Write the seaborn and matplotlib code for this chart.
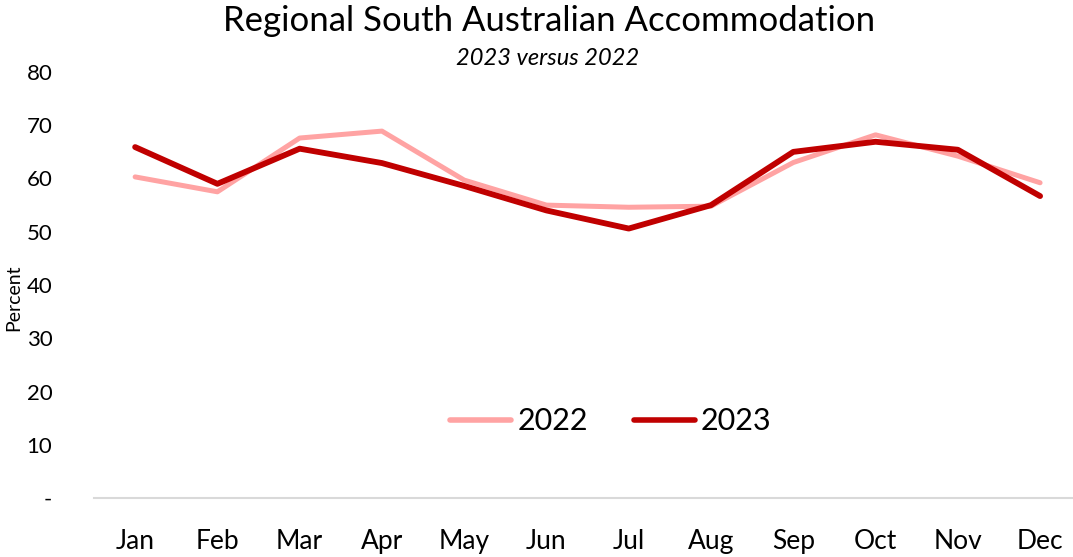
import numpy as np
import matplotlib.pyplot as plt
import pandas as pd
import seaborn as sns

months = ['Jan', 'Feb', 'Mar', 'Apr', 'May', 'Jun', 'Jul', 'Aug', 'Sep', 'Oct', 'Nov', 'Dec']
occ_2022 = [60.3, 57.5, 67.6, 68.9, 59.7, 55.0, 54.6, 54.8, 63.0, 68.2, 64.2, 59.2]
occ_2023 = [65.9, 59.0, 65.6, 62.9, 58.6, 54.0, 50.6, 55.0, 65.0, 66.9, 65.4, 56.7]
years = ['2022', '2023']
colors = ['#FFA3A3', '#C00000']

df = pd.DataFrame({
    'month': months * 2,
    'pos': list(range(12)) * 2,
    'value': occ_2022 + occ_2023,
    'year': [years[0]] * 12 + [years[1]] * 12,
})

sns.set_style('white')
plt.rcParams['font.family'] = ['Lato', 'DejaVu Sans']
plt.rcParams['text.color'] = 'black'
plt.rcParams['xtick.color'] = 'black'
plt.rcParams['ytick.color'] = 'black'
plt.rcParams['axes.labelcolor'] = 'black'

fig = plt.figure(figsize=(10.73, 5.57), dpi=100)
ax = fig.add_axes([94 / 1073, 1 - 498 / 557, (1073 - 94) / 1073, (498 - 72) / 557])

sns.lineplot(data=df, x='pos', y='value', hue='year', palette=dict(zip(years, colors)),
             ax=ax, linewidth=3.8, solid_capstyle='round')
for line, lw in zip(ax.get_lines(), [3.6, 4.2]):
    line.set_linewidth(lw)

ax.set_xlim(-0.5, 11.4)
ax.set_ylim(0, 80)
ax.set_xticks(range(12))
ax.set_xticklabels(months, fontsize=19)
ax.set_yticks(range(0, 81, 10))
ax.set_yticklabels(['-'] + [str(v) for v in range(10, 81, 10)], fontsize=16)
ax.tick_params(axis='x', length=0, pad=22)
ax.tick_params(axis='y', length=0, pad=30)
ax.set_xlabel('')
ax.set_ylabel('Percent', fontsize=14)
ax.yaxis.set_label_coords(-0.073, 0.47)

for s in ['top', 'right', 'left']:
    ax.spines[s].set_visible(False)
ax.spines['bottom'].set_color('#D9D9D9')
ax.spines['bottom'].set_linewidth(1.5)

handles, labels = ax.get_legend_handles_labels()
leg = ax.legend(handles, labels, loc='center', bbox_to_anchor=(0.528, 0.18), ncol=2,
                frameon=False, fontsize=22, handlelength=2.0, columnspacing=1.5, handletextpad=0.2)
for h in leg.get_lines():
    h.set_linewidth(4)

fig.text(0.512, 0.963, 'Regional South Australian Accommodation', ha='center', va='center', fontsize=25)
fig.text(0.51, 0.895, '2023 versus 2022', ha='center', va='center', fontsize=17, style='italic')

fig.savefig('out.png', dpi=100)
